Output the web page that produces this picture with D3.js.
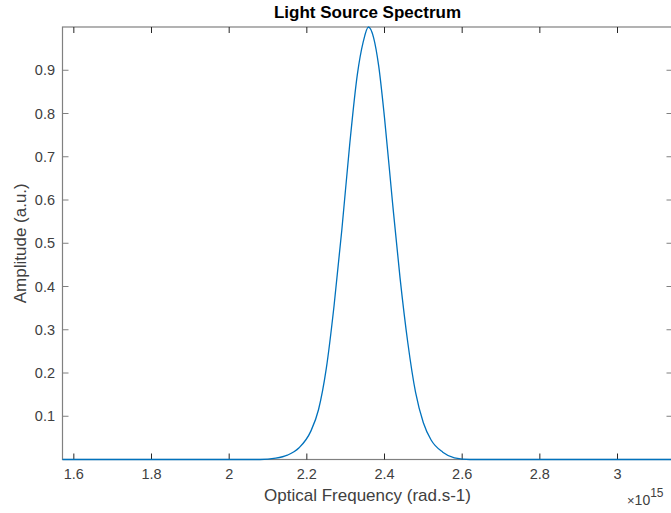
<!DOCTYPE html>
<html>
<head>
<meta charset="utf-8">
<script src="https://cdn.jsdelivr.net/npm/d3@7"></script>
<style>
  body { margin: 0; background: #fff; }
  svg { display: block; font-family: 'Liberation Sans', Arial, sans-serif; }
</style>
</head>
<body>
<svg id="viz" width="671" height="513"></svg>
<script>
// frequency (x 1e15 rad/s) and amplitude
const freq = [1.5708, 2.08, 2.12, 2.15, 2.18, 2.21, 2.23, 2.25, 2.27, 2.29, 2.31, 2.33, 2.345, 2.3586,
  2.372, 2.385, 2.40, 2.42, 2.44, 2.46, 2.48, 2.50, 2.52, 2.55, 2.58, 2.62, 3.1416];
const amp = [0, 0, 0.003, 0.010, 0.027, 0.065, 0.115, 0.21, 0.355, 0.53, 0.725, 0.89, 0.965, 1.0,
  0.975, 0.91, 0.79, 0.60, 0.42, 0.27, 0.155, 0.085, 0.045, 0.017, 0.004, 0, 0];
const xTicks = [1.6, 1.8, 2, 2.2, 2.4, 2.6, 2.8, 3];
const yTicks = [0.1, 0.2, 0.3, 0.4, 0.5, 0.6, 0.7, 0.8, 0.9];

const svg = d3.select('#viz');
const margin = { left: 62.5, top: 27, right: 672.5, bottom: 459.5 };

const x = d3.scaleLinear().domain([Math.PI / 2, Math.PI]).range([margin.left, margin.right]);
const y = d3.scaleLinear().domain([0, 1]).range([margin.bottom, margin.top]);

const axisColor = '#808080';
const textColor = '#404040';

// BOX + TICKS
const g = svg.append('g');
g.append('rect')
  .attr('x', margin.left).attr('y', margin.top)
  .attr('width', margin.right - margin.left).attr('height', margin.bottom - margin.top)
  .attr('fill', 'none').attr('stroke', axisColor).attr('stroke-width', 1.2);

xTicks.forEach((t) => {
  g.append('line').attr('x1', x(t)).attr('x2', x(t)).attr('y1', margin.bottom).attr('y2', margin.bottom - 6)
    .attr('stroke', '#262626').attr('stroke-width', 1);
  g.append('line').attr('x1', x(t)).attr('x2', x(t)).attr('y1', margin.top).attr('y2', margin.top + 6)
    .attr('stroke', '#262626').attr('stroke-width', 1);
  g.append('text').attr('x', x(t)).attr('y', 479).attr('text-anchor', 'middle')
    .style('font-size', '14.5px').attr('fill', textColor).text(d3.format('~g')(t));
});

yTicks.forEach((t) => {
  g.append('line').attr('x1', margin.left).attr('x2', margin.left + 6).attr('y1', y(t)).attr('y2', y(t))
    .attr('stroke', axisColor).attr('stroke-width', 1);
  g.append('line').attr('x1', margin.right).attr('x2', margin.right - 6).attr('y1', y(t)).attr('y2', y(t))
    .attr('stroke', axisColor).attr('stroke-width', 1);
  g.append('text').attr('x', 55).attr('y', y(t) + 5).attr('text-anchor', 'end')
    .style('font-size', '14.5px').attr('fill', textColor).text(t);
});

// DATA
const pts = freq.map((f, i) => [f, amp[i]]);
svg.append('path')
  .datum(pts)
  .attr('fill', 'none')
  .attr('stroke', '#0072BD')
  .attr('stroke-width', 1.3)
  .attr('d', d3.line().x((d) => x(d[0])).y((d) => y(d[1])).curve(d3.curveMonotoneX));

// LABELS
svg.append('text').attr('x', (margin.left + margin.right) / 2).attr('y', 18)
  .attr('text-anchor', 'middle').style('font-size', '17px').style('font-weight', 'bold')
  .attr('fill', '#000').text('Light Source Spectrum');

svg.append('text').attr('x', (margin.left + margin.right) / 2).attr('y', 501)
  .attr('text-anchor', 'middle').style('font-size', '17px').attr('fill', textColor)
  .text('Optical Frequency (rad.s-1)');

svg.append('text').attr('transform', 'translate(26,' + ((margin.top + margin.bottom) / 2) + ') rotate(-90)')
  .attr('text-anchor', 'middle').style('font-size', '17px').attr('fill', textColor)
  .text('Amplitude (a.u.)');

const expo = svg.append('text').attr('x', 627).attr('y', 505).attr('fill', textColor).style('font-size', '14px');
expo.append('tspan').style('font-size', '13px').text('\u00d7');
expo.append('tspan').text('10');
expo.append('tspan').attr('dy', -8).style('font-size', '12px').text('15');
</script>
</body>
</html>
